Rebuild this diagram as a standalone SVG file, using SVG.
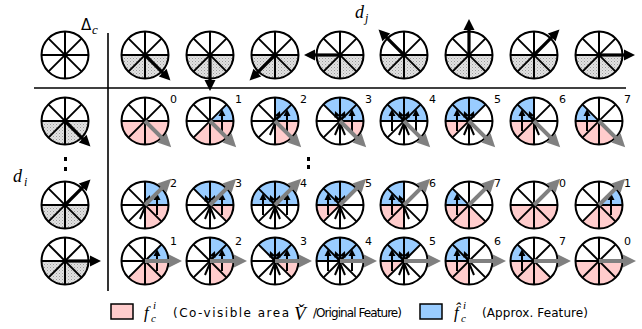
<svg xmlns="http://www.w3.org/2000/svg" xmlns:xlink="http://www.w3.org/1999/xlink" width="642" height="329" viewBox="0 0 642 329">
<style>
.pk{fill:#ffcccc}
.bl{fill:#99ccff}
.sp{stroke:#000;stroke-width:2;fill:none}
.sa{stroke:#000;stroke-width:2}
.num{font-family:"DejaVu Sans",sans-serif;font-size:11px;fill:#000}
.mi{font-family:"Liberation Serif",serif;font-style:italic;fill:#000}
.lg{font-family:"DejaVu Sans",sans-serif;font-size:12px;fill:#000}
.ax{stroke:#000;stroke-width:1.6}
</style>
<defs>
<pattern id="hatch" width="3" height="3" patternUnits="userSpaceOnUse"><rect width="3" height="3" fill="#e2e2e2"/><rect width="1" height="1" fill="#9a9a9a"/><rect x="1.5" y="1.5" width="1" height="1" fill="#b5b5b5"/></pattern>
<path id="sA" d="M0,0 L23.5,0 A23.5,23.5 0 0 0 16.62,-16.62 Z"/>
<path id="sB" d="M0,0 L16.62,-16.62 A23.5,23.5 0 0 0 0,-23.5 Z"/>
<path id="sC" d="M0,0 L0,-23.5 A23.5,23.5 0 0 0 -16.62,-16.62 Z"/>
<path id="sD" d="M0,0 L-16.62,-16.62 A23.5,23.5 0 0 0 -23.5,0 Z"/>
<path id="sE" d="M0,0 L-23.5,0 A23.5,23.5 0 0 0 -16.62,16.62 Z"/>
<path id="sF" d="M0,0 L-16.62,16.62 A23.5,23.5 0 0 0 0,23.5 Z"/>
<path id="sG" d="M0,0 L0,23.5 A23.5,23.5 0 0 0 16.62,16.62 Z"/>
<path id="sH" d="M0,0 L16.62,16.62 A23.5,23.5 0 0 0 23.5,0 Z"/>
<path id="half" d="M-23.5,0 A23.5,23.5 0 0 0 23.5,0 Z" fill="url(#hatch)"/>
<g id="spk" class="sp"><circle r="23.5" fill="#fff" stroke="none"/></g>
<g id="spokes" class="sp"><line x1="-23.5" y1="0" x2="23.5" y2="0"/><line x1="0" y1="-23.5" x2="0" y2="23.5"/><line x1="-16.62" y1="-16.62" x2="16.62" y2="16.62"/><line x1="-16.62" y1="16.62" x2="16.62" y2="-16.62"/><circle r="23.5"/></g>
<g id="bk"><line x1="0" y1="0" x2="27" y2="0" stroke="#000" stroke-width="3.2"/><polygon points="36,0 25,-5.5 25,5.5" fill="#000"/></g>
<g id="gr"><line x1="0" y1="0" x2="25" y2="0" stroke="#808080" stroke-width="4"/><polygon points="37,0 24,-6.5 24,6.5" fill="#808080"/></g>
<g id="up"><line class="sa" x1="0" y1="10" x2="0" y2="-5"/><polygon points="0,-12 -3.5,-5 3.5,-5" fill="#000"/></g>
<g id="dC"><line class="sa" x1="5" y1="14" x2="-2.7" y2="-4.5"/><polygon points="-5,-10 0.1,-5.6 -5.5,-3.3" fill="#000"/></g>
<g id="dB"><line class="sa" x1="-5" y1="14" x2="2.7" y2="-4.5"/><polygon points="5,-10 -0.1,-5.6 5.5,-3.3" fill="#000"/></g>
<g id="k0"><use href="#sE" class="pk"/><use href="#sF" class="pk"/><use href="#sG" class="pk"/><use href="#sH" class="pk"/><use href="#spokes"/></g>
<g id="k1"><use href="#sF" class="pk"/><use href="#sG" class="pk"/><use href="#sH" class="pk"/><use href="#sA" class="bl"/><use href="#spokes"/><use href="#up" x="12"/></g>
<g id="k2"><use href="#sG" class="pk"/><use href="#sH" class="pk"/><use href="#sA" class="bl"/><use href="#sB" class="bl"/><use href="#spokes"/><use href="#up" x="12"/><use href="#dB"/></g>
<g id="k3"><use href="#sH" class="pk"/><use href="#sA" class="bl"/><use href="#sB" class="bl"/><use href="#sC" class="bl"/><use href="#spokes"/><use href="#up" x="12"/><use href="#dB"/><use href="#dC"/></g>
<g id="k4"><use href="#sA" class="bl"/><use href="#sB" class="bl"/><use href="#sC" class="bl"/><use href="#sD" class="bl"/><use href="#spokes"/><use href="#up" x="12"/><use href="#up" x="-12"/><use href="#dB"/><use href="#dC"/></g>
<g id="k5"><use href="#sE" class="pk"/><use href="#sB" class="bl"/><use href="#sC" class="bl"/><use href="#sD" class="bl"/><use href="#spokes"/><use href="#up" x="-12"/><use href="#dB"/><use href="#dC"/></g>
<g id="k6"><use href="#sE" class="pk"/><use href="#sF" class="pk"/><use href="#sC" class="bl"/><use href="#sD" class="bl"/><use href="#spokes"/><use href="#up" x="-12"/><use href="#dC"/></g>
<g id="k7"><use href="#sE" class="pk"/><use href="#sF" class="pk"/><use href="#sG" class="pk"/><use href="#sD" class="bl"/><use href="#spokes"/><use href="#up" x="-12"/></g>
</defs>
<rect width="642" height="329" fill="#fff"/>
<g id="connectors">
<line class="ax" x1="34" y1="88" x2="626" y2="88"/>
<line class="ax" x1="108" y1="33" x2="108" y2="291"/>
</g>
<g id="labels">
<text x="81" y="30" font-family="DejaVu Sans,sans-serif" font-size="15">Δ</text>
<text class="mi" x="92" y="34" font-size="13">c</text>
<text class="mi" x="355" y="18" font-size="18">d</text>
<text class="mi" x="365" y="22" font-size="12">j</text>
<text class="mi" x="13" y="182" font-size="18">d</text>
<text class="mi" x="24" y="186" font-size="12">i</text>
<rect x="64" y="157" width="3" height="4"/><rect x="64" y="167" width="3" height="4"/>
<rect x="307" y="157" width="3" height="4"/><rect x="307" y="165" width="3" height="4"/>
</g>
<g id="top-0" transform="translate(65,55)"><use href="#spk"/><use href="#spokes"/></g>
<g id="top-1" transform="translate(145,55)"><use href="#spk"/><use href="#half"/><use href="#spokes"/><use href="#bk" transform="rotate(45)"/></g>
<g id="top-2" transform="translate(210,55)"><use href="#spk"/><use href="#half"/><use href="#spokes"/><use href="#bk" transform="rotate(90)"/></g>
<g id="top-3" transform="translate(275,55)"><use href="#spk"/><use href="#half"/><use href="#spokes"/><use href="#bk" transform="rotate(135)"/></g>
<g id="top-4" transform="translate(340,55)"><use href="#spk"/><use href="#half"/><use href="#spokes"/><use href="#bk" transform="rotate(180)"/></g>
<g id="top-5" transform="translate(404,55)"><use href="#spk"/><use href="#half"/><use href="#spokes"/><use href="#bk" transform="rotate(225)"/></g>
<g id="top-6" transform="translate(469,55)"><use href="#spk"/><use href="#half"/><use href="#spokes"/><use href="#bk" transform="rotate(270)"/></g>
<g id="top-7" transform="translate(534,55)"><use href="#spk"/><use href="#half"/><use href="#spokes"/><use href="#bk" transform="rotate(315)"/></g>
<g id="top-8" transform="translate(599,55)"><use href="#spk"/><use href="#half"/><use href="#spokes"/><use href="#bk"/></g>
<g id="left-1" transform="translate(65,121)"><use href="#spk"/><use href="#half"/><use href="#spokes"/><use href="#bk" transform="rotate(45)"/></g>
<g id="left-2" transform="translate(65,205)"><use href="#spk"/><use href="#half"/><use href="#spokes"/><use href="#bk" transform="rotate(-45)"/></g>
<g id="left-3" transform="translate(65,261)"><use href="#spk"/><use href="#half"/><use href="#spokes"/><use href="#bk"/></g>
<g id="r1c0" transform="translate(145,121)"><use href="#spk"/><use href="#k0"/><use href="#gr" transform="rotate(45)"/><text class="num" x="25" y="-18">0</text></g>
<g id="r1c1" transform="translate(210,121)"><use href="#spk"/><use href="#k1"/><use href="#gr" transform="rotate(45)"/><text class="num" x="25" y="-18">1</text></g>
<g id="r1c2" transform="translate(275,121)"><use href="#spk"/><use href="#k2"/><use href="#gr" transform="rotate(45)"/><text class="num" x="25" y="-18">2</text></g>
<g id="r1c3" transform="translate(340,121)"><use href="#spk"/><use href="#k3"/><use href="#gr" transform="rotate(45)"/><text class="num" x="25" y="-18">3</text></g>
<g id="r1c4" transform="translate(404,121)"><use href="#spk"/><use href="#k4"/><use href="#gr" transform="rotate(45)"/><text class="num" x="25" y="-18">4</text></g>
<g id="r1c5" transform="translate(469,121)"><use href="#spk"/><use href="#k5"/><use href="#gr" transform="rotate(45)"/><text class="num" x="25" y="-18">5</text></g>
<g id="r1c6" transform="translate(534,121)"><use href="#spk"/><use href="#k6"/><use href="#gr" transform="rotate(45)"/><text class="num" x="25" y="-18">6</text></g>
<g id="r1c7" transform="translate(599,121)"><use href="#spk"/><use href="#k7"/><use href="#gr" transform="rotate(45)"/><text class="num" x="25" y="-18">7</text></g>
<g id="r2c0" transform="translate(145,205)"><use href="#spk"/><use href="#k2"/><use href="#gr" transform="rotate(-45)"/><text class="num" x="25" y="-18">2</text></g>
<g id="r2c1" transform="translate(210,205)"><use href="#spk"/><use href="#k3"/><use href="#gr" transform="rotate(-45)"/><text class="num" x="25" y="-18">3</text></g>
<g id="r2c2" transform="translate(275,205)"><use href="#spk"/><use href="#k4"/><use href="#gr" transform="rotate(-45)"/><text class="num" x="25" y="-18">4</text></g>
<g id="r2c3" transform="translate(340,205)"><use href="#spk"/><use href="#k5"/><use href="#gr" transform="rotate(-45)"/><text class="num" x="25" y="-18">5</text></g>
<g id="r2c4" transform="translate(404,205)"><use href="#spk"/><use href="#k6"/><use href="#gr" transform="rotate(-45)"/><text class="num" x="25" y="-18">6</text></g>
<g id="r2c5" transform="translate(469,205)"><use href="#spk"/><use href="#k7"/><use href="#gr" transform="rotate(-45)"/><text class="num" x="25" y="-18">7</text></g>
<g id="r2c6" transform="translate(534,205)"><use href="#spk"/><use href="#k0"/><use href="#gr" transform="rotate(-45)"/><text class="num" x="25" y="-18">0</text></g>
<g id="r2c7" transform="translate(599,205)"><use href="#spk"/><use href="#k1"/><use href="#gr" transform="rotate(-45)"/><text class="num" x="25" y="-18">1</text></g>
<g id="r3c0" transform="translate(145,261)"><use href="#spk"/><use href="#k1"/><use href="#gr"/><text class="num" x="25" y="-16">1</text></g>
<g id="r3c1" transform="translate(210,261)"><use href="#spk"/><use href="#k2"/><use href="#gr"/><text class="num" x="25" y="-16">2</text></g>
<g id="r3c2" transform="translate(275,261)"><use href="#spk"/><use href="#k3"/><use href="#gr"/><text class="num" x="25" y="-16">3</text></g>
<g id="r3c3" transform="translate(340,261)"><use href="#spk"/><use href="#k4"/><use href="#gr"/><text class="num" x="25" y="-16">4</text></g>
<g id="r3c4" transform="translate(404,261)"><use href="#spk"/><use href="#k5"/><use href="#gr"/><text class="num" x="25" y="-16">5</text></g>
<g id="r3c5" transform="translate(469,261)"><use href="#spk"/><use href="#k6"/><use href="#gr"/><text class="num" x="25" y="-16">6</text></g>
<g id="r3c6" transform="translate(534,261)"><use href="#spk"/><use href="#k7"/><use href="#gr"/><text class="num" x="25" y="-16">7</text></g>
<g id="r3c7" transform="translate(599,261)"><use href="#spk"/><use href="#k0"/><use href="#gr"/><text class="num" x="25" y="-16">0</text></g>
<g id="legend">
<rect x="111" y="304" width="22" height="15" fill="#ffcccc" stroke="#000" stroke-width="1.5"/>
<text class="mi" x="144" y="318" font-size="17">f</text>
<text class="mi" x="151" y="322" font-size="11">c</text>
<text class="mi" x="153" y="309" font-size="11">i</text>
<text class="lg" x="173" y="317" textLength="116" lengthAdjust="spacing">(Co-visible area</text>
<text class="mi" x="294" y="320" font-size="19">V&#x30C;</text>
<text class="lg" x="313" y="317" textLength="89" lengthAdjust="spacing">/Original Feature)</text>
<rect x="420" y="304" width="22" height="15" fill="#99ccff" stroke="#000" stroke-width="1.5"/>
<text class="mi" x="454" y="318" font-size="17">f&#x302;</text>
<text class="mi" x="461" y="322" font-size="11">c</text>
<text class="mi" x="463" y="309" font-size="11">i</text>
<text class="lg" x="482" y="317" textLength="106" lengthAdjust="spacing">(Approx. Feature)</text>
</g>
</svg>
